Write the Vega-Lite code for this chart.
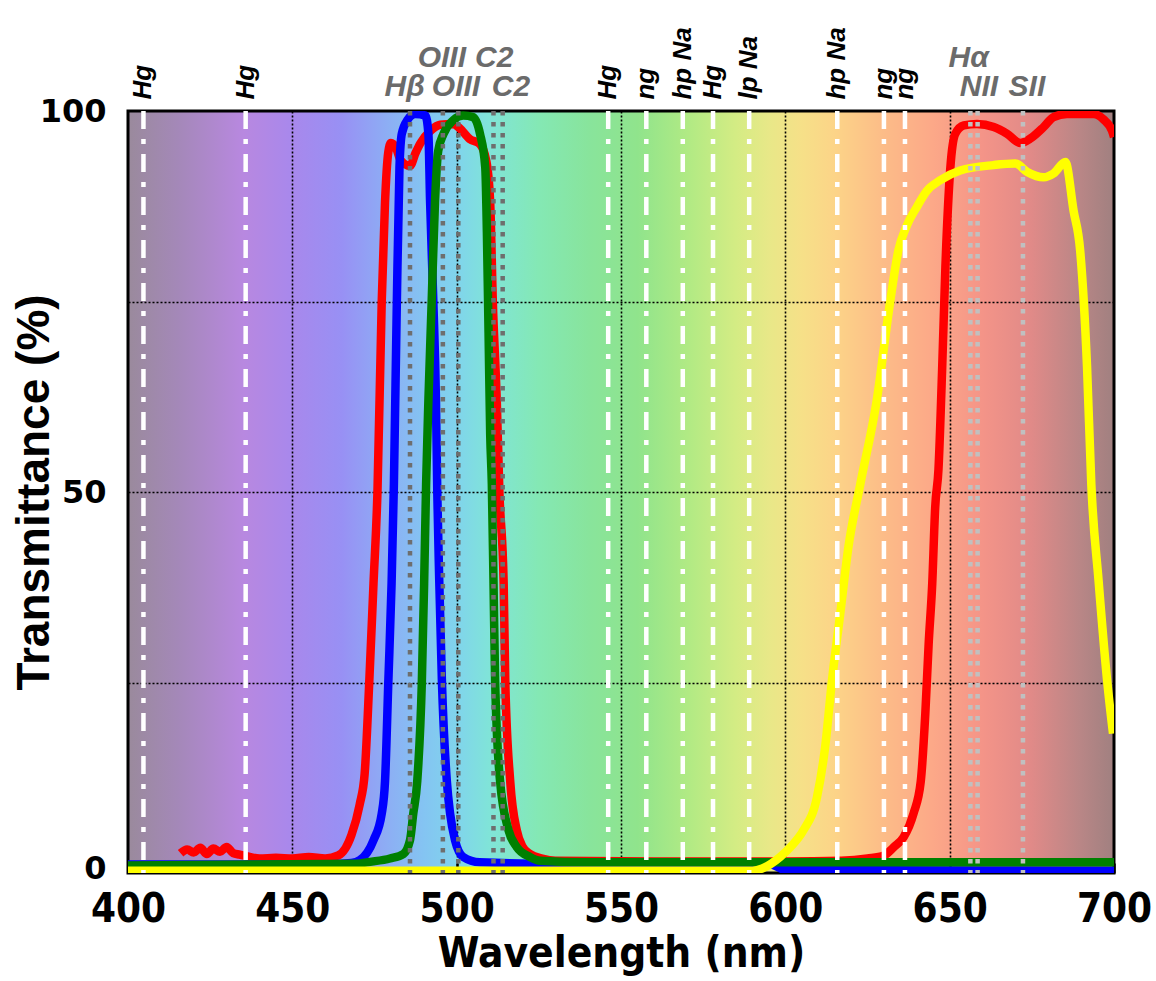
{
  "$schema": "https://vega.github.io/schema/vega-lite/v6.json",
  "width": 986,
  "height": 762,
  "autosize": {"type": "none"},
  "padding": {"left": 128, "top": 111, "right": 42, "bottom": 108},
  "background": "white",
  "config": {
    "view": {
      "stroke": "black",
      "strokeWidth": 3,
      "fill": {
        "gradient": "linear", "x1": 0, "y1": 0, "x2": 1, "y2": 0,
        "stops": [
          {"offset": 0.0, "color": "#9a8a9c"},
          {"offset": 0.05, "color": "#a488b8"},
          {"offset": 0.1167, "color": "#b888e0"},
          {"offset": 0.1667, "color": "#a888ec"},
          {"offset": 0.2167, "color": "#9890f4"},
          {"offset": 0.2667, "color": "#8cb0f4"},
          {"offset": 0.3, "color": "#84c4f2"},
          {"offset": 0.3333, "color": "#80d4ec"},
          {"offset": 0.3667, "color": "#80e4d8"},
          {"offset": 0.4167, "color": "#84e8b4"},
          {"offset": 0.4667, "color": "#88e49c"},
          {"offset": 0.5167, "color": "#90e48c"},
          {"offset": 0.5667, "color": "#b0ea84"},
          {"offset": 0.6167, "color": "#d4ec84"},
          {"offset": 0.65, "color": "#e8e888"},
          {"offset": 0.6833, "color": "#f6e088"},
          {"offset": 0.7167, "color": "#fcd488"},
          {"offset": 0.7667, "color": "#fcbc88"},
          {"offset": 0.8167, "color": "#fca888"},
          {"offset": 0.8667, "color": "#f49488"},
          {"offset": 0.9167, "color": "#e08a88"},
          {"offset": 0.9667, "color": "#b88686"},
          {"offset": 1.0, "color": "#a08080"}
        ]
      }
    },
    "axis": {"domain": false}
  },
  "datasets": {
    "curves": [
      {"filter": "red", "wl": 416, "t": 2.6}, {"filter": "red", "wl": 418, "t": 3.1}, {"filter": "red", "wl": 420, "t": 2.7},
      {"filter": "red", "wl": 422, "t": 3.3}, {"filter": "red", "wl": 424, "t": 2.5}, {"filter": "red", "wl": 426, "t": 3.2},
      {"filter": "red", "wl": 428, "t": 2.8}, {"filter": "red", "wl": 430, "t": 3.4}, {"filter": "red", "wl": 432, "t": 2.6},
      {"filter": "red", "wl": 434, "t": 2.4}, {"filter": "red", "wl": 436, "t": 2.2}, {"filter": "red", "wl": 440, "t": 1.9},
      {"filter": "red", "wl": 445, "t": 2.0}, {"filter": "red", "wl": 450, "t": 1.9}, {"filter": "red", "wl": 455, "t": 2.1},
      {"filter": "red", "wl": 460, "t": 1.9}, {"filter": "red", "wl": 464, "t": 2.3}, {"filter": "red", "wl": 468, "t": 5.0},
      {"filter": "red", "wl": 470.5, "t": 9}, {"filter": "red", "wl": 472, "t": 13}, {"filter": "red", "wl": 473.4, "t": 25},
      {"filter": "red", "wl": 474.7, "t": 38}, {"filter": "red", "wl": 475.9, "t": 50}, {"filter": "red", "wl": 477.2, "t": 75},
      {"filter": "red", "wl": 478.2, "t": 88}, {"filter": "red", "wl": 479.2, "t": 94.6}, {"filter": "red", "wl": 480, "t": 95.8},
      {"filter": "red", "wl": 481.5, "t": 95.2}, {"filter": "red", "wl": 483, "t": 93.5}, {"filter": "red", "wl": 485.8, "t": 92.8},
      {"filter": "red", "wl": 487.5, "t": 94.5}, {"filter": "red", "wl": 489, "t": 95.8}, {"filter": "red", "wl": 492, "t": 97.4},
      {"filter": "red", "wl": 495, "t": 98.2}, {"filter": "red", "wl": 499, "t": 98.3}, {"filter": "red", "wl": 501, "t": 97.7},
      {"filter": "red", "wl": 504, "t": 96.3}, {"filter": "red", "wl": 507, "t": 95.7}, {"filter": "red", "wl": 509, "t": 93.5},
      {"filter": "red", "wl": 510.2, "t": 88}, {"filter": "red", "wl": 511, "t": 75}, {"filter": "red", "wl": 512.2, "t": 62},
      {"filter": "red", "wl": 513, "t": 50}, {"filter": "red", "wl": 514.3, "t": 38}, {"filter": "red", "wl": 514.8, "t": 25},
      {"filter": "red", "wl": 516.3, "t": 12}, {"filter": "red", "wl": 518.3, "t": 5.6}, {"filter": "red", "wl": 520, "t": 3.5},
      {"filter": "red", "wl": 522.3, "t": 2.5}, {"filter": "red", "wl": 526, "t": 1.9}, {"filter": "red", "wl": 530, "t": 1.6},
      {"filter": "red", "wl": 560, "t": 1.5}, {"filter": "red", "wl": 600, "t": 1.5}, {"filter": "red", "wl": 617, "t": 1.6},
      {"filter": "red", "wl": 625, "t": 1.9}, {"filter": "red", "wl": 630, "t": 2.3}, {"filter": "red", "wl": 633, "t": 3.4},
      {"filter": "red", "wl": 636, "t": 4.7}, {"filter": "red", "wl": 639, "t": 7.8}, {"filter": "red", "wl": 641.2, "t": 12},
      {"filter": "red", "wl": 642.6, "t": 21}, {"filter": "red", "wl": 643.6, "t": 30}, {"filter": "red", "wl": 644.7, "t": 38},
      {"filter": "red", "wl": 645.6, "t": 48}, {"filter": "red", "wl": 646.6, "t": 53}, {"filter": "red", "wl": 647.7, "t": 66},
      {"filter": "red", "wl": 648.7, "t": 79.5}, {"filter": "red", "wl": 650.2, "t": 92.5}, {"filter": "red", "wl": 651.7, "t": 97},
      {"filter": "red", "wl": 654.3, "t": 98.1}, {"filter": "red", "wl": 658.3, "t": 98.3}, {"filter": "red", "wl": 663.4, "t": 97.9},
      {"filter": "red", "wl": 667.5, "t": 97}, {"filter": "red", "wl": 671.5, "t": 95.8}, {"filter": "red", "wl": 674.6, "t": 96.4},
      {"filter": "red", "wl": 678.6, "t": 97.9}, {"filter": "red", "wl": 681.6, "t": 99.2}, {"filter": "red", "wl": 685.7, "t": 99.6},
      {"filter": "red", "wl": 693.8, "t": 99.6}, {"filter": "red", "wl": 696.8, "t": 98.9}, {"filter": "red", "wl": 699.4, "t": 97.4},
      {"filter": "red", "wl": 700, "t": 96.6},

      {"filter": "blue", "wl": 400, "t": 1.1}, {"filter": "blue", "wl": 460, "t": 1.1}, {"filter": "blue", "wl": 468, "t": 1.3},
      {"filter": "blue", "wl": 470.6, "t": 1.7}, {"filter": "blue", "wl": 474.7, "t": 4.3}, {"filter": "blue", "wl": 477.2, "t": 7.8},
      {"filter": "blue", "wl": 478.2, "t": 12}, {"filter": "blue", "wl": 479.2, "t": 25}, {"filter": "blue", "wl": 480.2, "t": 38},
      {"filter": "blue", "wl": 480.9, "t": 51}, {"filter": "blue", "wl": 481.8, "t": 75}, {"filter": "blue", "wl": 482.6, "t": 92.6},
      {"filter": "blue", "wl": 483.3, "t": 97}, {"filter": "blue", "wl": 485, "t": 98.8}, {"filter": "blue", "wl": 487.4, "t": 99.6},
      {"filter": "blue", "wl": 490.5, "t": 99.4}, {"filter": "blue", "wl": 491.4, "t": 97}, {"filter": "blue", "wl": 491.9, "t": 88.3},
      {"filter": "blue", "wl": 492.9, "t": 75}, {"filter": "blue", "wl": 493.7, "t": 62}, {"filter": "blue", "wl": 494.1, "t": 50},
      {"filter": "blue", "wl": 494.7, "t": 38.4}, {"filter": "blue", "wl": 495.5, "t": 25.3}, {"filter": "blue", "wl": 497, "t": 12.1},
      {"filter": "blue", "wl": 498, "t": 7.8}, {"filter": "blue", "wl": 499.5, "t": 4.3}, {"filter": "blue", "wl": 502, "t": 2.1},
      {"filter": "blue", "wl": 507, "t": 1.4}, {"filter": "blue", "wl": 530, "t": 1.2}, {"filter": "blue", "wl": 595, "t": 1.2},
      {"filter": "blue", "wl": 600, "t": 0.4}, {"filter": "blue", "wl": 700, "t": 0.3},

      {"filter": "green", "wl": 400, "t": 1.0}, {"filter": "green", "wl": 470, "t": 1.2}, {"filter": "green", "wl": 472.6, "t": 1.4},
      {"filter": "green", "wl": 479.7, "t": 1.9}, {"filter": "green", "wl": 483.8, "t": 2.5}, {"filter": "green", "wl": 485.8, "t": 4.3},
      {"filter": "green", "wl": 486.8, "t": 7.8}, {"filter": "green", "wl": 488, "t": 12}, {"filter": "green", "wl": 489.4, "t": 25},
      {"filter": "green", "wl": 490.1, "t": 38}, {"filter": "green", "wl": 490.7, "t": 51}, {"filter": "green", "wl": 491.4, "t": 62},
      {"filter": "green", "wl": 492.4, "t": 75}, {"filter": "green", "wl": 493.4, "t": 88}, {"filter": "green", "wl": 494.4, "t": 94.8},
      {"filter": "green", "wl": 496, "t": 97}, {"filter": "green", "wl": 499, "t": 98.8}, {"filter": "green", "wl": 502, "t": 99.4},
      {"filter": "green", "wl": 505, "t": 99.2}, {"filter": "green", "wl": 507.1, "t": 97}, {"filter": "green", "wl": 508.7, "t": 92.6},
      {"filter": "green", "wl": 509.2, "t": 84}, {"filter": "green", "wl": 509.7, "t": 71}, {"filter": "green", "wl": 510.2, "t": 57.6},
      {"filter": "green", "wl": 510.7, "t": 51}, {"filter": "green", "wl": 511.2, "t": 38.4}, {"filter": "green", "wl": 511.7, "t": 25.3},
      {"filter": "green", "wl": 513.2, "t": 12.1}, {"filter": "green", "wl": 515.8, "t": 5.6}, {"filter": "green", "wl": 518.3, "t": 3.4},
      {"filter": "green", "wl": 522.3, "t": 2.1}, {"filter": "green", "wl": 525.4, "t": 1.6}, {"filter": "green", "wl": 540, "t": 1.4},
      {"filter": "green", "wl": 700, "t": 1.4},

      {"filter": "yellow", "wl": 400, "t": 0.3}, {"filter": "yellow", "wl": 590, "t": 0.3}, {"filter": "yellow", "wl": 593, "t": 0.6},
      {"filter": "yellow", "wl": 598.4, "t": 2.1}, {"filter": "yellow", "wl": 602, "t": 3.6}, {"filter": "yellow", "wl": 605.5, "t": 5.6},
      {"filter": "yellow", "wl": 609.6, "t": 9.9}, {"filter": "yellow", "wl": 612.1, "t": 16.5}, {"filter": "yellow", "wl": 614.2, "t": 25.3},
      {"filter": "yellow", "wl": 616.7, "t": 34}, {"filter": "yellow", "wl": 619.2, "t": 42.8}, {"filter": "yellow", "wl": 622.8, "t": 51},
      {"filter": "yellow", "wl": 627.8, "t": 62}, {"filter": "yellow", "wl": 631.9, "t": 75}, {"filter": "yellow", "wl": 634.4, "t": 81.7},
      {"filter": "yellow", "wl": 637, "t": 85}, {"filter": "yellow", "wl": 640, "t": 87.4}, {"filter": "yellow", "wl": 643, "t": 89.5},
      {"filter": "yellow", "wl": 647.1, "t": 90.9}, {"filter": "yellow", "wl": 653.2, "t": 92.2}, {"filter": "yellow", "wl": 663.4, "t": 92.9},
      {"filter": "yellow", "wl": 670, "t": 93.1}, {"filter": "yellow", "wl": 673.6, "t": 92}, {"filter": "yellow", "wl": 678.6, "t": 91.3},
      {"filter": "yellow", "wl": 681.6, "t": 91.8}, {"filter": "yellow", "wl": 685.2, "t": 93.3}, {"filter": "yellow", "wl": 687.7, "t": 86.9},
      {"filter": "yellow", "wl": 689.7, "t": 81.7}, {"filter": "yellow", "wl": 691.8, "t": 66.4}, {"filter": "yellow", "wl": 693.1, "t": 51},
      {"filter": "yellow", "wl": 695.3, "t": 38.4}, {"filter": "yellow", "wl": 697.9, "t": 25.3}, {"filter": "yellow", "wl": 699.7, "t": 18.3}
    ],
    "sources": [
      {"wl": 404.7, "name": "Hg"}, {"wl": 435.8, "name": "Hg"}, {"wl": 546.1, "name": "Hg"}, {"wl": 557.7, "name": "ng"},
      {"wl": 568.8, "name": "hp Na"}, {"wl": 578.0, "name": "Hg"}, {"wl": 589.0, "name": "lp Na"}, {"wl": 615.8, "name": "hp Na"},
      {"wl": 630.0, "name": "ng"}, {"wl": 636.4, "name": "ng"}
    ],
    "emission": [
      {"wl": 485.8, "tone": "dark"}, {"wl": 495.8, "tone": "dark"}, {"wl": 500.5, "tone": "dark"},
      {"wl": 511.2, "tone": "dark"}, {"wl": 514.0, "tone": "dark"},
      {"wl": 656.3, "tone": "light"}, {"wl": 658.5, "tone": "light"}, {"wl": 672.3, "tone": "light"}
    ],
    "emissionLabels": [
      {"text": "OIII", "wl": 495.5, "row": 1}, {"text": "C2", "wl": 511.4, "row": 1}, {"text": "Hα", "wl": 655.8, "row": 1},
      {"text": "Hβ", "wl": 484.2, "row": 2}, {"text": "OIII", "wl": 499.8, "row": 2}, {"text": "C2", "wl": 516.5, "row": 2},
      {"text": "NII", "wl": 658.9, "row": 2}, {"text": "SII", "wl": 673.5, "row": 2}
    ]
  },
  "layer": [
    {
      "data": {"name": "curves"},
      "transform": [{"filter": "datum.filter === 'red'"}],
      "mark": {"type": "line", "color": "#ff0000", "strokeWidth": 8.5, "interpolate": "monotone", "clip": true},
      "encoding": {
        "x": {
          "field": "wl", "type": "quantitative",
          "scale": {"domain": [400, 700], "nice": false, "zero": false},
          "axis": {
            "title": "Wavelength (nm)",
            "values": [400, 450, 500, 550, 600, 650, 700],
            "labelOverlap": false,
            "labelFont": "Liberation Sans Narrow, DejaVu Sans Condensed, Liberation Sans, sans-serif",
            "labelFontWeight": "bold",
            "labelFontSize": 40,
            "labelColor": "black",
            "labelPadding": 26,
            "labelFlush": false,
            "tickColor": "black",
            "tickWidth": 2.5,
            "tickSize": -10,
            "grid": true,
            "gridColor": "black",
            "gridDash": [2, 2],
            "gridWidth": 1.6,
            "gridOpacity": {"condition": {"test": "datum.value > 400 && datum.value < 700", "value": 1}, "value": 0},
            "titleFont": "Liberation Sans Narrow, DejaVu Sans Condensed, Liberation Sans, sans-serif",
            "titleFontWeight": "bold",
            "titleFontSize": 42,
            "titleColor": "black",
            "titleX": 493,
            "titleY": 80,
            "titleBaseline": "middle"
          }
        },
        "y": {
          "field": "t", "type": "quantitative",
          "scale": {"domain": [0, 100], "nice": false, "zero": false},
          "axis": {
            "title": "Transmittance (%)",
            "values": [0, 25, 50, 75, 100],
            "labelExpr": "datum.value % 50 === 0 ? datum.label : ''",
            "labelFont": "DejaVu Sans",
            "labelFontWeight": "bold",
            "labelFontSize": 32,
            "labelColor": "black",
            "labelPadding": 22,
            "labelOffset": {"condition": {"test": "datum.value === 0", "value": -5}, "value": 0},
            "labelOverlap": false,
            "ticks": false,
            "grid": true,
            "gridColor": "black",
            "gridDash": [2, 2],
            "gridWidth": 1.6,
            "gridOpacity": {"condition": {"test": "datum.value > 0 && datum.value < 100", "value": 1}, "value": 0},
            "titleFont": "Liberation Sans",
            "titleFontWeight": "bold",
            "titleFontSize": 46,
            "titleColor": "black",
            "titleX": -94,
            "titleY": 381,
            "titleAngle": 270,
            "titleAlign": "center",
            "titleBaseline": "middle"
          }
        }
      }
    },
    {
      "data": {"name": "curves"},
      "transform": [{"filter": "datum.filter === 'blue'"}],
      "mark": {"type": "line", "color": "#0000ff", "strokeWidth": 8.5, "interpolate": "monotone", "clip": true},
      "encoding": {
        "x": {"field": "wl", "type": "quantitative", "scale": {"domain": [400, 700], "nice": false, "zero": false}},
        "y": {"field": "t", "type": "quantitative", "scale": {"domain": [0, 100], "nice": false, "zero": false}}
      }
    },
    {
      "data": {"name": "curves"},
      "transform": [{"filter": "datum.filter === 'green'"}],
      "mark": {"type": "line", "color": "#008000", "strokeWidth": 8.5, "interpolate": "monotone", "clip": true},
      "encoding": {
        "x": {"field": "wl", "type": "quantitative", "scale": {"domain": [400, 700], "nice": false, "zero": false}},
        "y": {"field": "t", "type": "quantitative", "scale": {"domain": [0, 100], "nice": false, "zero": false}}
      }
    },
    {
      "data": {"name": "curves"},
      "transform": [{"filter": "datum.filter === 'yellow'"}],
      "mark": {"type": "line", "color": "#ffff00", "strokeWidth": 8.5, "interpolate": "monotone", "clip": true},
      "encoding": {
        "x": {"field": "wl", "type": "quantitative", "scale": {"domain": [400, 700], "nice": false, "zero": false}},
        "y": {"field": "t", "type": "quantitative", "scale": {"domain": [0, 100], "nice": false, "zero": false}}
      }
    },
    {
      "data": {"name": "sources"},
      "mark": {"type": "rule", "color": "white", "strokeWidth": 4.5, "strokeDash": [18, 10, 5, 10], "strokeCap": "butt"},
      "encoding": {
        "x": {"field": "wl", "type": "quantitative", "scale": {"domain": [400, 700], "nice": false, "zero": false}}
      }
    },
    {
      "data": {"name": "emission"},
      "mark": {"type": "rule", "strokeWidth": 4.5, "strokeDash": [4.5, 6.5], "strokeCap": "butt"},
      "encoding": {
        "x": {"field": "wl", "type": "quantitative", "scale": {"domain": [400, 700], "nice": false, "zero": false}},
        "color": {"field": "tone", "type": "nominal", "scale": {"domain": ["dark", "light"], "range": ["#6e6e6e", "#c0c0c0"]}, "legend": null}
      }
    },
    {
      "data": {"name": "sources"},
      "mark": {"type": "text", "angle": 270, "align": "left", "baseline": "middle", "font": "Liberation Sans", "fontWeight": "bold", "fontStyle": "italic", "fontSize": 26, "color": "black"},
      "encoding": {
        "x": {"field": "wl", "type": "quantitative", "scale": {"domain": [400, 700], "nice": false, "zero": false}},
        "y": {"datum": 101.5, "type": "quantitative", "scale": {"domain": [0, 100], "nice": false, "zero": false}},
        "text": {"field": "name"}
      }
    },
    {
      "data": {"name": "emissionLabels"},
      "transform": [{"filter": "datum.row === 1"}],
      "mark": {"type": "text", "align": "center", "baseline": "middle", "font": "Liberation Sans", "fontWeight": "bold", "fontStyle": "italic", "fontSize": 30, "color": "#6b6b6b"},
      "encoding": {
        "x": {"field": "wl", "type": "quantitative", "scale": {"domain": [400, 700], "nice": false, "zero": false}},
        "y": {"datum": 107, "type": "quantitative", "scale": {"domain": [0, 100], "nice": false, "zero": false}},
        "text": {"field": "text"}
      }
    },
    {
      "data": {"name": "emissionLabels"},
      "transform": [{"filter": "datum.row === 2"}],
      "mark": {"type": "text", "align": "center", "baseline": "middle", "font": "Liberation Sans", "fontWeight": "bold", "fontStyle": "italic", "fontSize": 30, "color": "#6b6b6b"},
      "encoding": {
        "x": {"field": "wl", "type": "quantitative", "scale": {"domain": [400, 700], "nice": false, "zero": false}},
        "y": {"datum": 103.1, "type": "quantitative", "scale": {"domain": [0, 100], "nice": false, "zero": false}},
        "text": {"field": "text"}
      }
    }
  ]
}
